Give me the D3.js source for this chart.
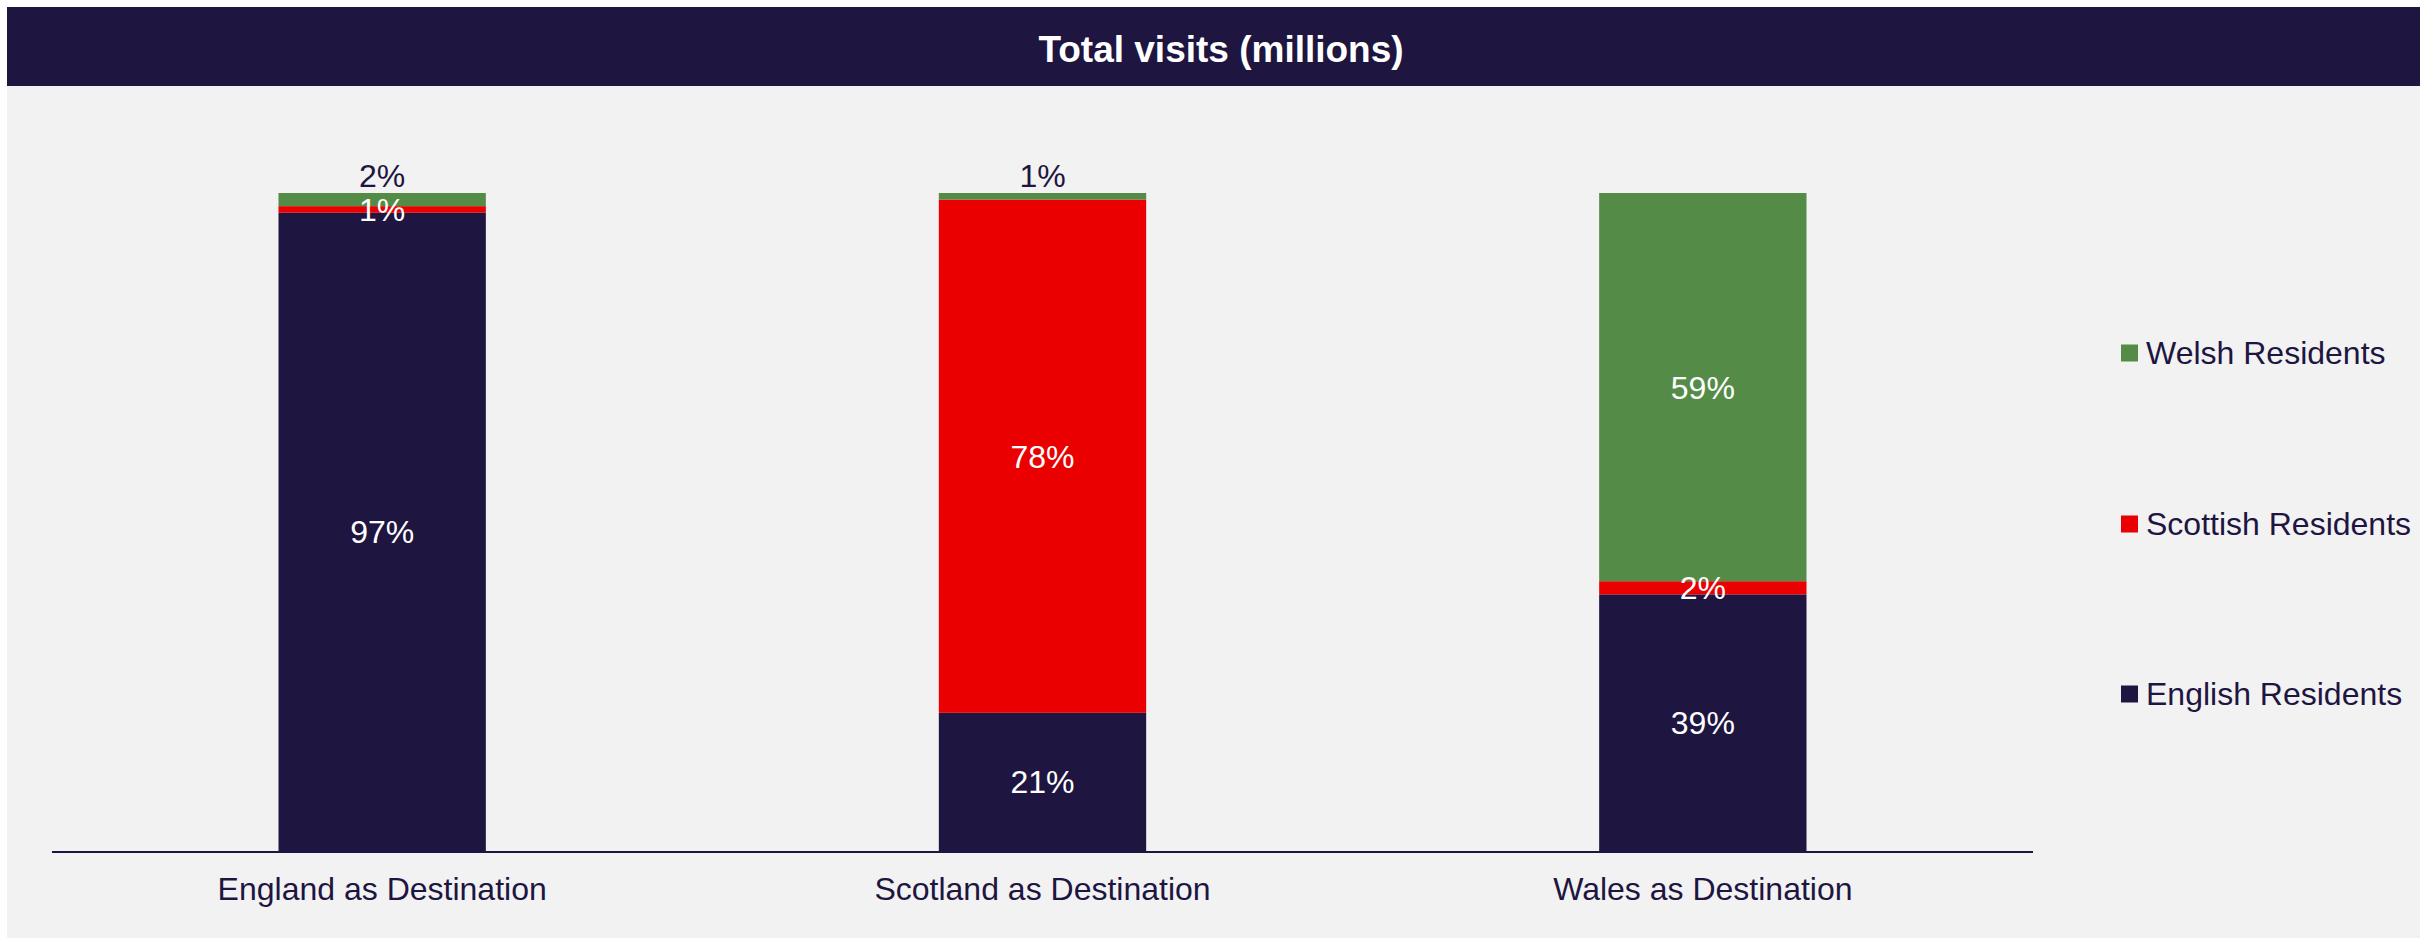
<!DOCTYPE html>
<html>
<head>
<meta charset="utf-8">
<script src="https://cdn.jsdelivr.net/npm/d3@7"></script>
<style>
  html, body { margin: 0; padding: 0; background: #ffffff; }
  svg { display: block; font-family: "Liberation Sans", Arial, sans-serif; }
</style>
</head>
<body>
<svg id="chart" width="2420" height="938"></svg>
<script>
const title = "Total visits (millions)";
const categories = ["England as Destination", "Scotland as Destination", "Wales as Destination"];
const seriesNames = ["English Residents", "Scottish Residents", "Welsh Residents"];
const englishResidents = [97, 21, 39];
const scottishResidents = [1, 78, 2];
const welshResidents = [2, 1, 59];
const seriesColors = ["#1E1541", "#EA0000", "#548C47"];

const W = 2420, H = 938;
const svg = d3.select("#chart");
const dark = "#1E1541";
const FONT = "'Liberation Sans', Arial, sans-serif";

// background
svg.append("rect").attr("x", 7).attr("y", 7).attr("width", W - 7).attr("height", H - 7).attr("fill", "#F2F2F2");
// title bar
svg.append("rect").attr("x", 7).attr("y", 7).attr("width", W - 7).attr("height", 79).attr("fill", dark);
svg.append("text").attr("x", 1221).attr("y", 62).attr("text-anchor", "middle")
  .attr("fill", "#ffffff").attr("font-size", 37).attr("font-weight", "bold").text(title);

const plot = { left: 52, right: 2033, top: 193, bottom: 851 };

const data = categories.map((c, i) => ({
  cat: c,
  "English Residents": englishResidents[i],
  "Scottish Residents": scottishResidents[i],
  "Welsh Residents": welshResidents[i]
}));

const stack = d3.stack().keys(seriesNames);
const stacked = stack(data);

const x = d3.scaleBand().domain(categories).range([plot.left, plot.right])
  .paddingInner(0.686).paddingOuter(0.343);
const y = d3.scaleLinear().domain([0, 100]).range([plot.bottom, plot.top]);

const layers = svg.append("g").selectAll("g").data(stacked).join("g")
  .attr("fill", (d, i) => seriesColors[i]);

layers.selectAll("rect").data(d => d).join("rect")
  .attr("x", d => x(d.data.cat))
  .attr("width", x.bandwidth())
  .attr("y", d => y(d[1]))
  .attr("height", d => y(d[0]) - y(d[1]));

// labels
const lbl = svg.append("g").attr("font-size", 32).attr("text-anchor", "middle");
stacked.forEach((layer, si) => {
  layer.forEach(d => {
    const v = d[1] - d[0];
    const cx = x(d.data.cat) + x.bandwidth() / 2;
    const isTop = si === stacked.length - 1;
    let cy, fill;
    if (isTop && v < 5) {
      cy = y(d[1]) - 18;
      fill = dark;
    } else {
      cy = (y(d[0]) + y(d[1])) / 2;
      fill = "#ffffff";
    }
    lbl.append("text").attr("x", cx).attr("y", cy + 11.5).attr("fill", fill).text(v + "%");
  });
});

// x axis
const xAxis = svg.append("g").attr("transform", `translate(0,${plot.bottom})`)
  .call(d3.axisBottom(x).tickSize(0).tickPadding(0));
xAxis.select(".domain").attr("stroke", dark).attr("stroke-width", 2)
  .attr("d", `M${plot.left},1H${plot.right}`);
xAxis.selectAll(".tick text").attr("font-size", 32).attr("fill", dark)
  .attr("font-family", FONT)
  .attr("dy", null).attr("y", 49);

// legend
const legendItems = [
  { name: "Welsh Residents", color: seriesColors[2], cy: 353 },
  { name: "Scottish Residents", color: seriesColors[1], cy: 524 },
  { name: "English Residents", color: seriesColors[0], cy: 694 }
];
const lg = svg.append("g").selectAll("g").data(legendItems).join("g");
lg.append("rect").attr("x", 2121).attr("y", d => d.cy - 8.5).attr("width", 17).attr("height", 17)
  .attr("fill", d => d.color);
lg.append("text").attr("x", 2146).attr("y", d => d.cy + 11).attr("font-size", 32)
  .attr("fill", dark).text(d => d.name);
</script>
</body>
</html>
